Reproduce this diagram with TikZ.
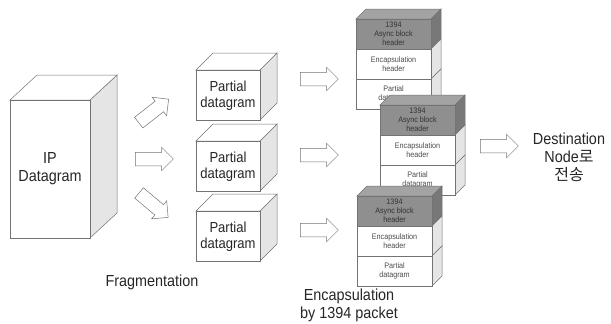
\documentclass[tikz,border=0pt]{standalone}
\usepackage{fontspec}
\setmainfont[FakeStretch=0.9]{Liberation Sans}
\newfontfamily\kr{Noto Sans CJK KR}
\usetikzlibrary{shapes.arrows}

\definecolor{edge}{gray}{0.45}
\definecolor{sidegray}{gray}{0.9}
\definecolor{hdrfront}{gray}{0.56}
\definecolor{hdrtop}{gray}{0.64}
\definecolor{hdrside}{gray}{0.47}

\tikzset{
  box/.style={draw=edge, line width=.5pt, fill=white},
  side/.style={draw=edge, line width=.5pt, fill=sidegray},
  hdr/.style={draw=edge, line width=.5pt, fill=hdrfront},
  label/.style={font=\fontsize{16}{18}\selectfont, align=center, text=black!85},
  boxtext/.style={font=\fontsize{14.5}{16}\selectfont, align=center, text=black!85},
  small/.style={font=\fontsize{8}{9}\selectfont, align=center, text=black!70},
  blockarrow/.style={single arrow, draw=edge, line width=.5pt, fill=white,
    inner xsep=0pt, inner ysep=6.5pt, minimum height=38pt,
    single arrow head extend=5pt}
}

\begin{document}
\begin{tikzpicture}[x=1pt,y=-1pt]
\useasboundingbox (0,0) rectangle (611,324);

% IP datagram
\draw[side] (90,100) -- (117,75) -- (117,213) -- (90,238) -- cycle;
\draw[box] (10,100) -- (37,75) -- (117,75) -- (90,100) -- cycle;
\draw[box] (10,100) rectangle (90,238);
\node[label] (ip) at (50,169) {IP\\Datagram};

% fragmentation
\node[blockarrow, rotate=38] (frag1) at (151,113) {};
\node[blockarrow] (frag2) at (151,159) {};
\node[blockarrow, rotate=-40] (frag3) at (151,203) {};
\node[label] (frag) at (152,282) {Fragmentation};

% partial datagrams
\draw[side] (260,70) -- (277,53) -- (277,103) -- (260,120) -- cycle;
\draw[box] (196,70) -- (213,53) -- (277,53) -- (260,70) -- cycle;
\draw[box] (196,70) rectangle (260,120);
\node[boxtext] (part1) at (228,96) {Partial\\datagram};
\draw[side] (260,141) -- (277,124) -- (277,174) -- (260,191) -- cycle;
\draw[box] (196,141) -- (213,124) -- (277,124) -- (260,141) -- cycle;
\draw[box] (196,141) rectangle (260,191);
\node[boxtext] (part2) at (228,167) {Partial\\datagram};
\draw[side] (260,211) -- (277,194) -- (277,244) -- (260,261) -- cycle;
\draw[box] (196,211) -- (213,194) -- (277,194) -- (260,211) -- cycle;
\draw[box] (196,211) rectangle (260,261);
\node[boxtext] (part3) at (228,237) {Partial\\datagram};

% encapsulation
\node[blockarrow] (enc1) at (316,79) {};
\node[blockarrow] (enc2) at (316,155) {};
\node[blockarrow] (enc3) at (316,230) {};

% packet 1
\draw[hdr, fill=hdrtop] (356,19) -- (366,9) -- (441,9) -- (431,19) -- cycle;
\draw[hdr, fill=hdrside] (431,19) -- (441,9) -- (441,39) -- (431,49) -- cycle;
\draw[side] (431,49) -- (441,39) -- (441,69) -- (431,79) -- cycle;
\draw[side] (431,79) -- (441,69) -- (441,99) -- (431,109) -- cycle;
\draw[hdr] (356,19) rectangle (431,49);
\draw[box] (356,49) rectangle (431,79);
\draw[box] (356,79) rectangle (431,109);
\node[small, text=black!80] (pk1a) at (393.5,34) {1394\\Async block\\header};
\node[small] (pk1b) at (393.5,64) {Encapsulation\\header};
\node[small] (pk1c) at (393.5,94) {Partial\\datagram};

% packet 2
\draw[hdr, fill=hdrtop] (380,105) -- (390,95) -- (465,95) -- (455,105) -- cycle;
\draw[hdr, fill=hdrside] (455,105) -- (465,95) -- (465,125) -- (455,135) -- cycle;
\draw[side] (455,135) -- (465,125) -- (465,155) -- (455,165) -- cycle;
\draw[side] (455,165) -- (465,155) -- (465,185) -- (455,195) -- cycle;
\draw[hdr] (380,105) rectangle (455,135);
\draw[box] (380,135) rectangle (455,165);
\draw[box] (380,165) rectangle (455,195);
\node[small, text=black!80] (pk2a) at (417.5,120) {1394\\Async block\\header};
\node[small] (pk2b) at (417.5,150) {Encapsulation\\header};
\node[small] (pk2c) at (417.5,180) {Partial\\datagram};

% packet 3
\draw[hdr, fill=hdrtop] (357,196) -- (367,186) -- (442,186) -- (432,196) -- cycle;
\draw[hdr, fill=hdrside] (432,196) -- (442,186) -- (442,216) -- (432,226) -- cycle;
\draw[side] (432,226) -- (442,216) -- (442,246) -- (432,256) -- cycle;
\draw[side] (432,256) -- (442,246) -- (442,276) -- (432,286) -- cycle;
\draw[hdr] (357,196) rectangle (432,226);
\draw[box] (357,226) rectangle (432,256);
\draw[box] (357,256) rectangle (432,286);
\node[small, text=black!80] (pk3a) at (394.5,211) {1394\\Async block\\header};
\node[small] (pk3b) at (394.5,241) {Encapsulation\\header};
\node[small] (pk3c) at (394.5,271) {Partial\\datagram};

\node[label] (encap) at (349,305) {Encapsulation\\by 1394 packet};

% destination
\node[blockarrow] (dest) at (496,146) {};
\node[label] (destnode) at (569,157) {Destination\\Node{\kr 로}\\{\kr 전송}};
\end{tikzpicture}
\end{document}
